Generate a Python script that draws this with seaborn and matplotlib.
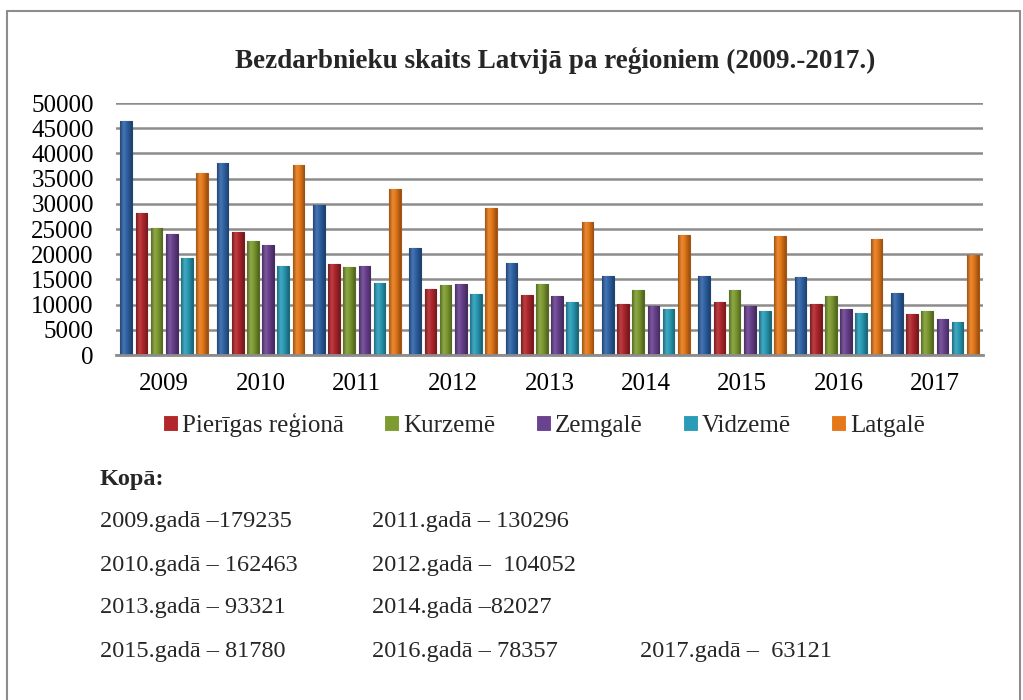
import matplotlib
matplotlib.use("Agg")
import matplotlib.pyplot as plt
from matplotlib.lines import Line2D
from matplotlib.colors import LinearSegmentedColormap, to_rgb
import seaborn as sns
import pandas as pd
import numpy as np

years = ["2009", "2010", "2011", "2012", "2013", "2014", "2015", "2016", "2017"]
regions = ["Rīgas reģionā", "Pierīgas reģionā", "Kurzemē", "Zemgalē", "Vidzemē", "Latgalē"]
riga = [46400, 38000, 29800, 21200, 18200, 15600, 15700, 15500, 12400]
pieriga = [28200, 24500, 18000, 13100, 11900, 10100, 10500, 10100, 8100]
kurzeme = [25100, 22600, 17400, 13800, 14000, 12800, 12800, 11800, 8700]
zemgale = [24000, 21900, 17700, 14100, 11800, 9800, 9700, 9100, 7100]
vidzeme = [19300, 17700, 14200, 12100, 10500, 9100, 8800, 8300, 6500]
latgale = [36100, 37600, 33000, 29100, 26300, 23900, 23700, 23000, 19800]
yticks = list(range(0, 50001, 5000))

title = "Bezdarbnieku skaits Latvijā pa reģioniem (2009.-2017.)"
totals_head = "Kopā:"
totals_rows = [
    ["2009.gadā –179235", "2011.gadā – 130296", ""],
    ["2010.gadā – 162463", "2012.gadā –  104052", ""],
    ["2013.gadā – 93321", "2014.gadā –82027", ""],
    ["2015.gadā – 81780", "2016.gadā – 78357", "2017.gadā –  63121"],
]

colors = ["#2F63A6", "#B1272C", "#7D9B30", "#6A4290", "#2A9CB7", "#E5791A"]
edges = ["#1E4475", "#7A1A1E", "#55691F", "#462B60", "#1B6B7E", "#A85510"]

series = [riga, pieriga, kurzeme, zemgale, vidzeme, latgale]
rows = []
for reg, vals in zip(regions, series):
    for y, v in zip(years, vals):
        rows.append({"year": y, "region": reg, "value": v})
df = pd.DataFrame(rows)

sns.set_theme(style="white")
plt.rcParams["font.family"] = ["Liberation Serif", "DejaVu Serif"]

W, H = 1023, 700
fig = plt.figure(figsize=(W / 100, H / 100), dpi=100)
ax = fig.add_axes([116 / W, 1 - 355 / H, (983 - 116) / W, (355 - 103) / H])

sns.barplot(data=df, x="year", y="value", hue="region", hue_order=regions,
            palette=colors, width=0.945, gap=0.24, ax=ax, saturation=1,
            errorbar=None, linewidth=0.8)


def shade(c, f):
    r = np.array(to_rgb(c))
    if f < 1:
        return tuple(r * f)
    return tuple(r + (1 - r) * (f - 1))


grad = np.linspace(0, 1, 64).reshape(1, -1)
for i, cont in enumerate(ax.containers):
    cm = LinearSegmentedColormap.from_list(
        "g%d" % i,
        [(0, shade(colors[i], 0.7)), (0.3, shade(colors[i], 1.12)),
         (0.55, colors[i]), (1, shade(colors[i], 0.65))])
    for p in cont:
        p.set_edgecolor(edges[i])
        p.set_zorder(3)
        x0, w = p.get_x(), p.get_width()
        h = p.get_height()
        im = ax.imshow(grad, cmap=cm, aspect="auto", extent=(x0, x0 + w, 0, h),
                       zorder=3.5, interpolation="bilinear")
        im.set_clip_path(p)

ax.set_ylim(0, 50000)
ax.set_yticks(yticks)
ax.set_yticklabels([str(t) for t in yticks])
ax.set_xlim(-0.5, len(years) - 0.5)
ax.set_xlabel("")
ax.set_ylabel("")
for s in ["top", "right", "left"]:
    ax.spines[s].set_visible(False)
ax.spines["bottom"].set_color("#8C8C8C")
ax.spines["bottom"].set_linewidth(2)
ax.spines["bottom"].set_zorder(4)
ax.yaxis.grid(True, color="#8C8C8C", linewidth=1.8)
ax.set_axisbelow(True)
ax.tick_params(axis="y", length=0, pad=16, labelsize=18, colors="black")
ax.tick_params(axis="x", length=0, pad=13, labelsize=18, colors="black")

handles, labels = ax.get_legend_handles_labels()
if ax.get_legend() is not None:
    ax.get_legend().remove()
fig.legend(handles[1:], labels[1:], loc="center", bbox_to_anchor=(544 / W, 1 - 425 / H),
           ncol=5, frameon=False, fontsize=18, handlelength=0.6, handleheight=0.6,
           handletextpad=0.15, columnspacing=1.62, borderaxespad=0)

fig.text(555 / W, 1 - 60 / H, title, ha="center", va="center", fontsize=19.5, fontweight="bold")

fig.text(100 / W, 1 - 479 / H, totals_head, ha="left", va="center", fontsize=17.5, fontweight="bold")
col_x = [100, 372, 640]
row_y = [522, 565, 608, 651]
for r, yy in zip(totals_rows, row_y):
    for txt, xx in zip(r, col_x):
        if txt:
            fig.text(xx / W, 1 - yy / H, txt, ha="left", va="center", fontsize=17.5)

# page frame
frame_c = "#8C8C8C"
fig.add_artist(Line2D([7 / W, 1020 / W], [1 - 11 / H, 1 - 11 / H], color=frame_c, lw=1.5, transform=fig.transFigure))
fig.add_artist(Line2D([7 / W, 7 / W], [1 - 11 / H, 0], color=frame_c, lw=1.5, transform=fig.transFigure))
fig.add_artist(Line2D([1020 / W, 1020 / W], [1 - 11 / H, 0], color=frame_c, lw=1.5, transform=fig.transFigure))

fig.savefig("out.png", dpi=100)
